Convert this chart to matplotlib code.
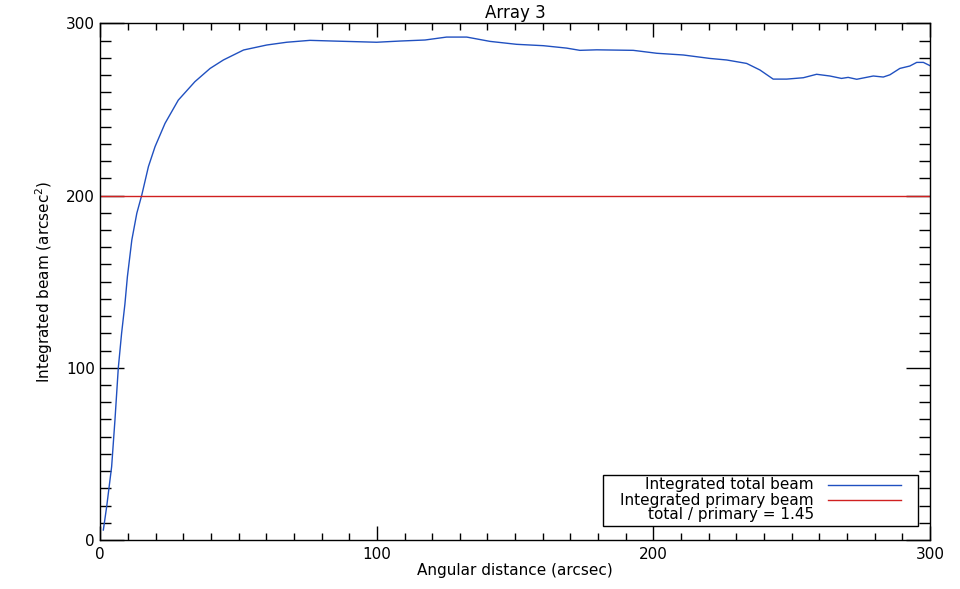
import numpy as np
import matplotlib
matplotlib.use("Agg")
import matplotlib.pyplot as plt
from matplotlib.patches import Rectangle
from matplotlib.ticker import MultipleLocator

# integrated total beam
dist = [1.1, 2.3, 4.1, 5.3, 6.5, 7.7, 8.9, 9.8, 11.4, 13.2, 15.0, 17.4,
        19.8, 23.4, 28.2, 34.2, 39.7, 44.5, 51.8, 60.2, 67.4, 75.8, 84.2,
        99.9, 108.4, 117.4, 125.2, 132.5, 140.9, 150.5, 160.2, 168.6, 173.4,
        179.5, 192.7, 201.2, 210.8, 220.4, 226.5, 233.7, 238.5, 243.3, 248.2,
        254.2, 259.0, 263.8, 268.0, 270.4, 273.5, 279.5, 283.1, 285.5, 289.1,
        292.7, 295.2, 297.6, 300.0]
total = [5.8, 19.3, 42.6, 69.7, 99.7, 120.0, 137.0, 152.9, 174.2, 189.7,
         200.3, 216.8, 228.4, 241.9, 255.4, 266.1, 273.8, 278.7, 284.5, 287.4,
         289.0, 290.1, 289.7, 289.0, 289.7, 290.3, 292.0, 292.0, 289.5, 287.8,
         287.0, 285.6, 284.3, 284.6, 284.3, 282.6, 281.6, 279.6, 278.7, 276.7,
         272.9, 267.6, 267.6, 268.4, 270.4, 269.4, 268.0, 268.6, 267.5, 269.4,
         268.8, 270.1, 273.8, 275.2, 277.3, 277.3, 275.4]
primary = 200.0
ratio = 1.45

plt.rcParams['font.family'] = ['DejaVu Sans']
fig = plt.figure(figsize=(9.6, 5.89), dpi=100)
W, H = 960, 589
ax = fig.add_axes([100.3 / W, 1 - 540 / H, (930 - 100.3) / W, (540 - 23.3) / H])

blue = '#2050c0'
red = '#d02020'
ax.plot(dist, total, color=blue, lw=1)
ax.axhline(primary, color=red, lw=1)

ax.set_xlim(0, 300)
ax.set_ylim(0, 300)
ax.xaxis.set_major_locator(MultipleLocator(100))
ax.xaxis.set_minor_locator(MultipleLocator(10))
ax.yaxis.set_major_locator(MultipleLocator(100))
ax.yaxis.set_minor_locator(MultipleLocator(10))
ax.tick_params(axis='x', which='major', direction='in', length=10, width=1,
               top=True, labelsize=11, pad=5)
ax.tick_params(axis='x', which='minor', direction='in', length=5, width=1, top=True)
ax.tick_params(axis='y', which='major', direction='in', length=17, width=1,
               right=True, labelsize=11, pad=4)
ax.tick_params(axis='y', which='minor', direction='in', length=8, width=1, right=True)
for s in ax.spines.values():
    s.set_linewidth(1)

ax.set_title('Array 3', fontsize=12, pad=4)
ax.set_xlabel('Angular distance (arcsec)', fontsize=11, labelpad=1)
ax.set_ylabel('Integrated beam (arcsec$^2$)', fontsize=11, labelpad=8)

# legend box drawn in figure pixels
def fx(px):
    return px / W

def fy(py):
    return 1 - py / H

fig.patches.append(Rectangle((fx(603), fy(526)), fx(918) - fx(603), fy(475) - fy(526),
                             transform=fig.transFigure, fill=False, ec='black', lw=1))
rows = [('Integrated total beam', blue), ('Integrated primary beam', red),
        ('total / primary = %.2f' % ratio, None)]
for i, (txt, col) in enumerate(rows):
    y = 485 + 15 * i
    fig.text(fx(814), fy(y), txt, ha='right', va='center', fontsize=11)
    if col:
        fig.add_artist(plt.Line2D([fx(828), fx(901)], [fy(y), fy(y)],
                                  transform=fig.transFigure, color=col, lw=1))

fig.savefig('out.png', dpi=100)
